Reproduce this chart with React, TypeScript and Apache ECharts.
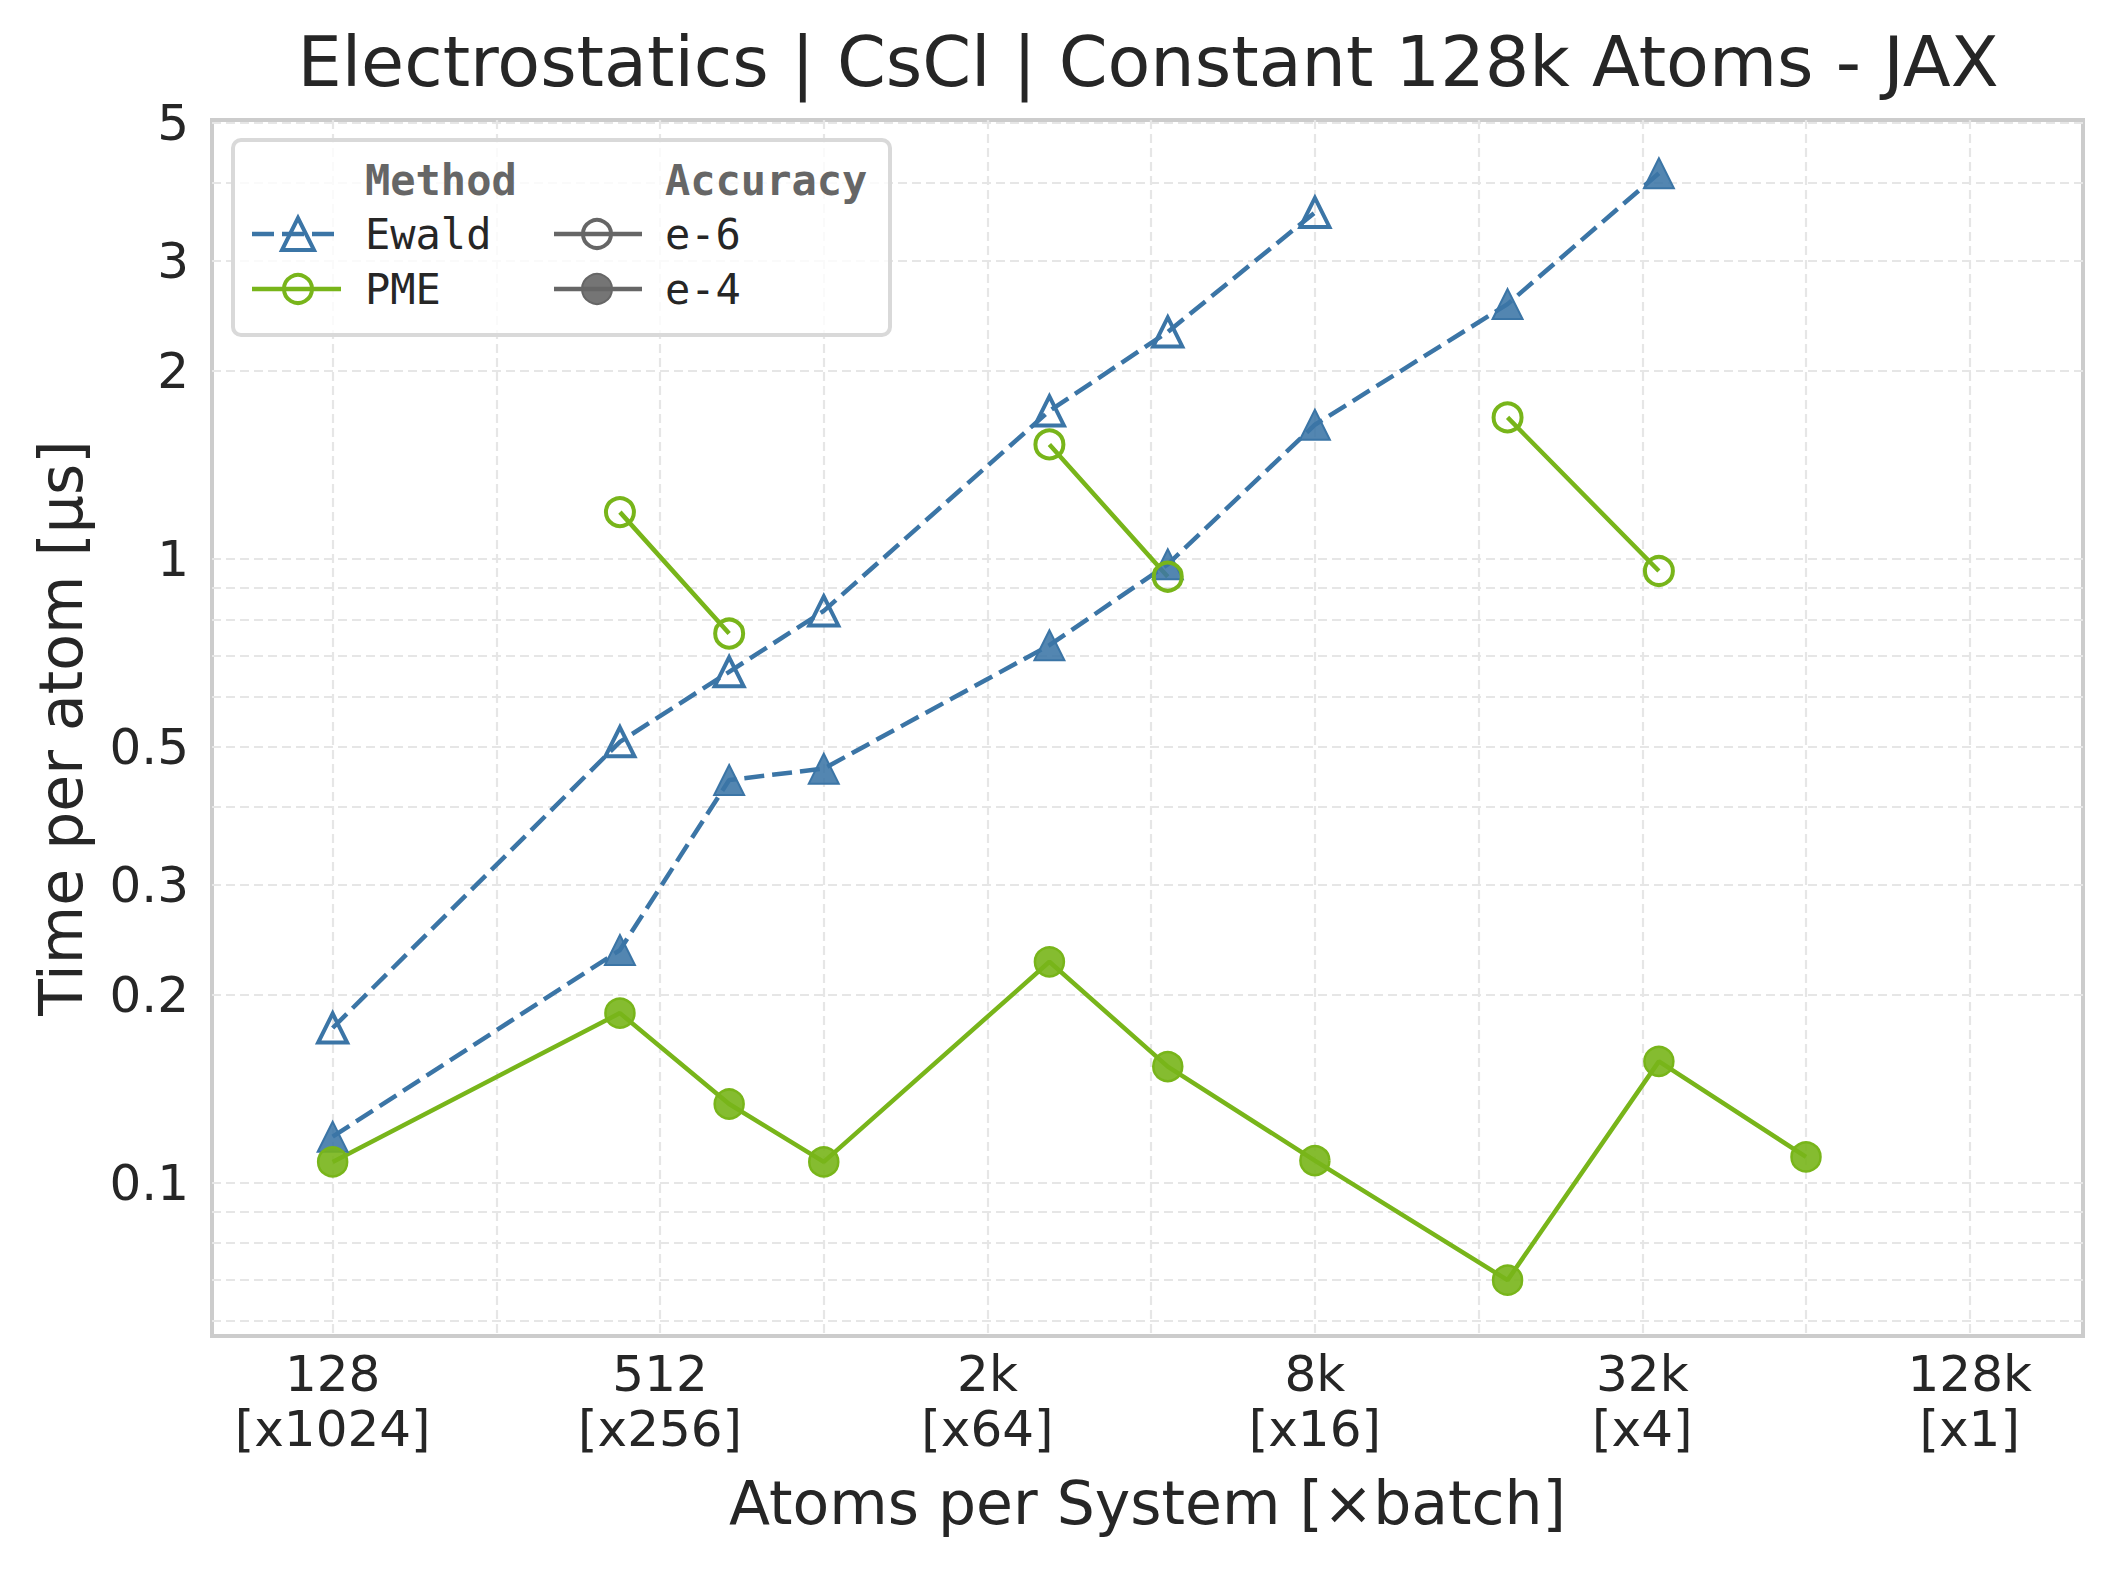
import { useEffect, useRef } from 'react'

import * as echarts from 'echarts'

// atoms per system (CsCl supercells), log2 x axis
const atoms = [128, 432, 686, 1024, 2662, 4394, 8192, 18522, 35152, 65536]
// time per atom [µs], null = no run
const ewaldE6 = [0.177, 0.509, 0.659, 0.825, 1.726, 2.31, 3.59, null, null, null]
const ewaldE4 = [0.1185, 0.236, 0.442, 0.461, 0.727, 0.98, 1.64, 2.56, 4.15, null]
const pmeE6 = [null, 1.188, 0.759, null, 1.525, 0.936, null, 1.685, 0.956, null]
const pmeE4 = [0.108, 0.187, 0.1337, 0.108, 0.226, 0.1535, 0.1085, 0.0698, 0.1565, 0.11]

const xTickValues = [128, 512, 2048, 8192, 32768, 131072]
const xTickLabels = ['128\n[x1024]', '512\n[x256]', '2k\n[x64]', '8k\n[x16]', '32k\n[x4]', '128k\n[x1]']
const xGridValues = [128, 256, 512, 1024, 2048, 4096, 8192, 16384, 32768, 65536, 131072]
const yTickValues = [0.1, 0.2, 0.3, 0.5, 1, 2, 3, 5]
const yTickLabels = ['0.1', '0.2', '0.3', '0.5', '1', '2', '3', '5']
const yGridValues = [0.06, 0.07, 0.08, 0.09, 0.1, 0.2, 0.3, 0.4, 0.5, 0.6, 0.7, 0.8, 0.9, 1, 2, 3, 4, 5]

const BLUE = '#3b75a6'
const GREEN = '#78b51a'
const GREY = '#666666'
const TEXT = '#262626'
const FONT = '"DejaVu Sans", sans-serif'
const MONO = '"DejaVu Sans Mono", monospace'

const toPoints = (ys: (number | null)[]) => atoms.map((x, i) => [x, ys[i] == null ? '-' : ys[i]])

const pick = (values: number[], labels: string[], v: number) => {
  const i = values.findIndex((t) => Math.abs(t - v) <= t * 1e-4)
  return i < 0 ? '' : labels[i]
}

const gridLine = { show: true, lineStyle: { color: '#e6e6e6', width: 2.2, type: [9, 5] } }

export default function App() {
  const main = useRef(null)
  useEffect(() => {
    document.body.style.margin = '0'
    const legendText = (text: string, x: number, y: number, header = false) => ({
      type: 'text',
      z: 101,
      style: {
        text,
        x,
        y,
        fill: header ? GREY : TEXT,
        fontSize: 42,
        fontFamily: MONO,
        fontWeight: header ? 'bold' : 'normal',
        align: 'left',
        verticalAlign: 'middle',
      },
    })
    const option = {
      animation: false,
      backgroundColor: '#ffffff',
      title: {
        text: 'Electrostatics | CsCl | Constant 128k Atoms - JAX',
        left: 1148,
        top: 27,
        padding: 0,
        textAlign: 'center',
        textStyle: { fontSize: 70, fontWeight: 'normal', color: TEXT, fontFamily: FONT, lineHeight: 70 },
      },
      grid: {
        left: 212,
        top: 120,
        width: 1871,
        height: 1216,
        show: true,
        backgroundColor: '#ffffff',
        borderColor: '#cccccc',
        borderWidth: 4,
        containLabel: false,
      },
      xAxis: {
        type: 'log',
        logBase: 2,
        min: 76.8,
        max: 211750,
        axisLine: { show: false },
        axisTick: { show: false, customValues: xGridValues },
        axisLabel: {
          customValues: xTickValues,
          formatter: (v: number) => pick(xTickValues, xTickLabels, v),
          fontSize: 50,
          lineHeight: 55,
          fontFamily: FONT,
          color: TEXT,
          margin: 10,
        },
        splitLine: gridLine,
        name: 'Atoms per System [×batch]',
        nameLocation: 'middle',
        nameGap: 137,
        nameMoveOverlap: false,
        nameTextStyle: { fontSize: 60, fontFamily: FONT, color: TEXT },
      },
      yAxis: {
        type: 'log',
        logBase: 10,
        min: 0.0568,
        max: 5.05,
        axisLine: { show: false },
        axisTick: { show: false, customValues: yGridValues },
        axisLabel: {
          customValues: yTickValues,
          formatter: (v: number) => pick(yTickValues, yTickLabels, v),
          fontSize: 50,
          fontFamily: FONT,
          color: TEXT,
          margin: 23,
        },
        splitLine: gridLine,
        name: 'Time per atom [µs]',
        nameLocation: 'middle',
        nameGap: 121,
        nameMoveOverlap: false,
        nameTextStyle: { fontSize: 60, fontFamily: FONT, color: TEXT },
      },
      series: [
        {
          name: 'Ewald e-6',
          type: 'line',
          data: toPoints(ewaldE6),
          symbol: 'triangle',
          symbolSize: 29,
          itemStyle: { color: 'rgba(255,255,255,0)', borderColor: BLUE, borderWidth: 4 },
          lineStyle: { color: BLUE, width: 4.5, type: [20, 8] },
          emphasis: { disabled: true },
        },
        {
          name: 'Ewald e-4',
          type: 'line',
          data: toPoints(ewaldE4),
          symbol: 'triangle',
          symbolSize: 30,
          itemStyle: { color: 'rgba(59,117,166,0.88)', borderColor: BLUE, borderWidth: 2 },
          lineStyle: { color: BLUE, width: 4.5, type: [20, 8] },
          emphasis: { disabled: true },
        },
        {
          name: 'PME e-6',
          type: 'line',
          data: toPoints(pmeE6),
          symbol: 'circle',
          symbolSize: 28,
          itemStyle: { color: 'rgba(255,255,255,0)', borderColor: GREEN, borderWidth: 4 },
          lineStyle: { color: GREEN, width: 4.5 },
          emphasis: { disabled: true },
        },
        {
          name: 'PME e-4',
          type: 'line',
          data: toPoints(pmeE4),
          symbol: 'circle',
          symbolSize: 29,
          itemStyle: { color: 'rgba(120,181,26,0.9)', borderColor: GREEN, borderWidth: 2.5 },
          lineStyle: { color: GREEN, width: 4.5 },
          emphasis: { disabled: true },
        },
      ],
      graphic: [
        {
          type: 'rect',
          z: 100,
          shape: { x: 233, y: 140, width: 657, height: 195, r: 8 },
          style: { fill: 'rgba(255,255,255,0.8)', stroke: '#d9d9d9', lineWidth: 4 },
        },
        legendText('Method', 365, 180, true),
        legendText('Accuracy', 665, 180, true),
        {
          type: 'line',
          z: 101,
          shape: { x1: 252, y1: 234, x2: 336, y2: 234 },
          style: { stroke: BLUE, lineWidth: 4.5, lineDash: [22, 8] },
        },
        {
          type: 'polygon',
          z: 101,
          shape: { points: [[298, 218], [282, 250], [314, 250]] },
          style: { fill: 'none', stroke: BLUE, lineWidth: 4 },
        },
        legendText('Ewald', 365, 234),
        {
          type: 'line',
          z: 101,
          shape: { x1: 252, y1: 289, x2: 341, y2: 289 },
          style: { stroke: GREEN, lineWidth: 4.5 },
        },
        {
          type: 'circle',
          z: 101,
          shape: { cx: 298, cy: 289, r: 14 },
          style: { fill: 'none', stroke: GREEN, lineWidth: 4 },
        },
        legendText('PME', 365, 289),
        {
          type: 'line',
          z: 101,
          shape: { x1: 554, y1: 234, x2: 642, y2: 234 },
          style: { stroke: GREY, lineWidth: 4.5 },
        },
        {
          type: 'circle',
          z: 101,
          shape: { cx: 597, cy: 234, r: 14 },
          style: { fill: 'none', stroke: GREY, lineWidth: 4 },
        },
        legendText('e-6', 665, 234),
        {
          type: 'line',
          z: 101,
          shape: { x1: 554, y1: 289, x2: 642, y2: 289 },
          style: { stroke: GREY, lineWidth: 4.5 },
        },
        {
          type: 'circle',
          z: 101,
          shape: { cx: 597, cy: 289, r: 15 },
          style: { fill: 'rgba(102,102,102,0.9)', stroke: GREY, lineWidth: 2 },
        },
        legendText('e-4', 665, 289),
      ],
    }
    const myChart = echarts.init(main.current, null, { renderer: 'svg' })
    myChart.setOption(option)
    return () => {
      myChart.dispose()
    }
  }, [])
  return <div ref={main} style={{ width: '2118px', height: '1572px' }}></div>
}
